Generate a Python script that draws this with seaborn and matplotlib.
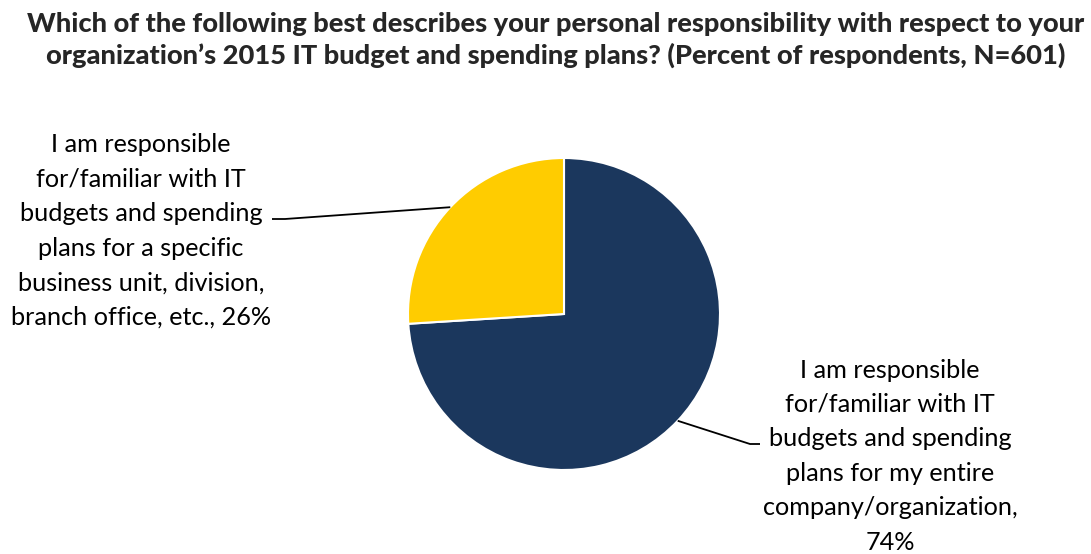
import numpy as np
import matplotlib
matplotlib.use("Agg")
import matplotlib.pyplot as plt
import seaborn as sns

# Survey responses (percent of respondents)
categories = ["Entire company/organization", "Specific business unit/division/office"]
shares = [74, 26]
slice_labels = [
    "I am responsible\nfor/familiar with IT\nbudgets and spending\nplans for my entire\ncompany/organization,\n74%",
    "I am responsible\nfor/familiar with IT\nbudgets and spending\nplans for a specific\nbusiness unit, division,\nbranch office, etc., 26%",
]
slice_colors = ["#1B375D", "#FFCC00"]
title_text = ("Which of the following best describes your personal responsibility with respect to your\n"
              "organization\u2019s 2015 IT budget and spending plans? (Percent of respondents, N=601)")

sns.set_theme(style="white")
plt.rcParams["font.family"] = ["Lato", "DejaVu Sans"]

W, H = 1091, 554
fig = plt.figure(figsize=(W / 100, H / 100), dpi=100)
ax = fig.add_axes([0, 0, 1, 1])


def py(y):
    """Convert a top-down pixel row to data y."""
    return H - y


cx, cy, r = 564, py(314), 156
wedges, _ = ax.pie(
    shares,
    colors=slice_colors,
    startangle=90,
    counterclock=False,
    center=(cx, cy),
    radius=r,
    wedgeprops=dict(edgecolor="white", linewidth=1.5),
)
ax.set_xlim(0, W)
ax.set_ylim(0, H)
ax.set_aspect("equal")
ax.axis("off")


def edge_point(w):
    ang = np.deg2rad((w.theta1 + w.theta2) / 2)
    return cx + r * np.cos(ang), cy + r * np.sin(ang)


label_style = dict(fontsize=18.2, color="#000000", ha="center", va="center",
                   multialignment="center", linespacing=1.6)

# Navy slice: label bottom-right
x0, y0 = edge_point(wedges[0])
ax.plot([x0, 750, 760], [y0, py(444), py(444)], color="black", lw=1.3,
        solid_capstyle="butt")
ax.text(890, py(456), slice_labels[0], **label_style)

# Yellow slice: label top-left
x1, y1 = edge_point(wedges[1])
ax.plot([x1, 285, 272], [y1, py(219), py(219)], color="black", lw=1.3,
        solid_capstyle="butt")
ax.text(141, py(231), slice_labels[1], **label_style)

ax.text(556, py(40), title_text, fontsize=19.6, fontweight="black",
        ha="center", va="center", multialignment="center", linespacing=1.27)

fig.savefig("out.png", dpi=100, facecolor="white")
